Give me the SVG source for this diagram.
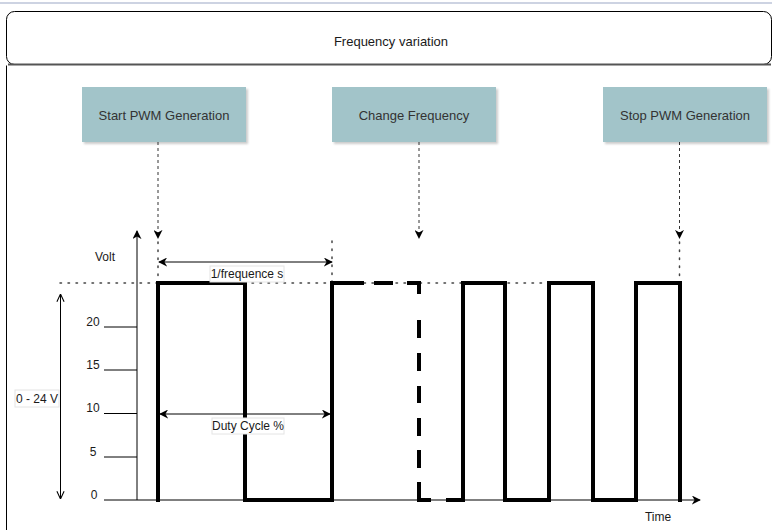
<svg xmlns="http://www.w3.org/2000/svg" width="772" height="530" viewBox="0 0 772 530">
<style>
text{font-family:"Liberation Sans",Arial,sans-serif;font-size:12px;fill:#1a1a1a}
.node rect.box{fill:#a2c4c9;stroke:none}
.node text{text-anchor:middle;dominant-baseline:central;fill:#333;font-size:13px}
.dash{stroke:#333;stroke-width:1;stroke-dasharray:3 3;fill:none}
.dot{stroke:#444;stroke-width:1.5;stroke-dasharray:1.5 6.5;stroke-linecap:round;fill:none}
.thin{stroke:#000;stroke-width:1;fill:none}
.wave{stroke:#000;stroke-width:4;fill:none;stroke-linejoin:miter;stroke-linecap:square}
.lbl{text-anchor:middle;dominant-baseline:central}
.lblbg{fill:#fff;stroke:#e4e4e4;stroke-width:1}
</style>
<defs>
<marker id="blk" viewBox="0 0 10 10" refX="9" refY="5" markerWidth="9" markerHeight="9" markerUnits="userSpaceOnUse" orient="auto-start-reverse">
<path d="M0,0 L10,5 L0,10 L3,5 Z" fill="#000"/>
</marker>
<marker id="open" viewBox="0 0 10 10" refX="9.5" refY="5" markerWidth="9" markerHeight="9" markerUnits="userSpaceOnUse" orient="auto-start-reverse">
<path d="M1,1 L9.5,5 L1,9" fill="none" stroke="#000" stroke-width="1.2"/>
</marker>
<filter id="sh" x="-10%" y="-10%" width="130%" height="140%">
<feDropShadow dx="2" dy="2" stdDeviation="1.2" flood-color="#000" flood-opacity="0.2"/>
</filter>
</defs>
<rect x="0" y="2" width="772" height="2" fill="#cdd3e2"/>
<g id="frame">
<rect x="6.5" y="11.5" width="765" height="53" rx="8" fill="#fff" stroke="#000"/>
<line x1="8" y1="64.5" x2="771" y2="64.5" stroke="#555" stroke-width="2"/>
<path d="M6.5,530 V65.5" class="thin"/>
<text x="391" y="41" class="lbl" style="font-size:13px">Frequency variation</text>
</g>
<g id="start-pwm" class="node">
<rect class="box" x="82" y="87" width="164" height="55" filter="url(#sh)"/>
<text x="164" y="115">Start PWM Generation</text>
</g>
<g id="change-frequency" class="node">
<rect class="box" x="332" y="87" width="164" height="55" filter="url(#sh)"/>
<text x="414" y="115">Change Frequency</text>
</g>
<g id="stop-pwm" class="node">
<rect class="box" x="603" y="87" width="164" height="55" filter="url(#sh)"/>
<text x="685" y="115">Stop PWM Generation</text>
</g>
<g id="connectors">
<line x1="158" y1="142" x2="158" y2="238" class="dash" marker-end="url(#blk)"/>
<line x1="419" y1="142" x2="419" y2="238" class="dash" marker-end="url(#blk)"/>
<line x1="679.5" y1="142" x2="679.5" y2="238" class="dash" marker-end="url(#blk)"/>
</g>
<g id="guides">
<line x1="60" y1="283" x2="550" y2="283" class="dot"/>
<line x1="158" y1="242" x2="158" y2="283" class="dot"/>
<line x1="332" y1="241" x2="332" y2="283" class="dot"/>
<line x1="679.5" y1="242" x2="679.5" y2="283" class="dot"/>
</g>
<g id="axes">
<line x1="137" y1="500" x2="137" y2="231" class="thin" marker-end="url(#blk)"/>
<line x1="104" y1="500" x2="700" y2="500" class="thin" marker-end="url(#blk)"/>
<line x1="104" y1="327" x2="137" y2="327" class="thin"/>
<line x1="104" y1="370" x2="137" y2="370" class="thin"/>
<line x1="104" y1="413.5" x2="137" y2="413.5" class="thin"/>
<line x1="104" y1="457" x2="137" y2="457" class="thin"/>
<text x="93" y="322" class="lbl">20</text>
<text x="93" y="365" class="lbl">15</text>
<text x="93" y="408" class="lbl">10</text>
<text x="93" y="452" class="lbl">5</text>
<text x="94" y="495" class="lbl">0</text>
<text x="105" y="257" class="lbl">Volt</text>
<text x="658" y="517" class="lbl">Time</text>
<line x1="60.5" y1="294" x2="60.5" y2="499" class="thin" marker-start="url(#open)" marker-end="url(#open)"/>
<rect x="15" y="390" width="44" height="17" class="lblbg"/>
<text x="37" y="398.5" class="lbl">0 - 24 V</text>
</g>
<g id="waveform">
<path d="M158,500 V283 H245 V500 H332 V283 H362" class="wave"/>
<path d="M376,283 H391" class="wave"/>
<path d="M409,283 H419 V292" class="wave"/>
<path d="M419,322 V336 M419,355 V369 M419,388 V401 M419,420 V434 M419,452 V466" class="wave"/>
<path d="M419,484 V500 H429" class="wave"/>
<path d="M448,500 H463 V283 H505 V500 H549 V283 H593 V500 H636 V283 H680 V500" class="wave"/>
</g>
<g id="dimensions">
<line x1="159" y1="262" x2="332" y2="262" class="thin" marker-start="url(#blk)" marker-end="url(#blk)"/>
<rect x="210" y="266" width="74" height="16" class="lblbg"/>
<text x="247" y="274" class="lbl">1/frequence s</text>
<line x1="160" y1="414" x2="330" y2="414" class="thin" marker-start="url(#blk)" marker-end="url(#blk)"/>
<rect x="212" y="418" width="72" height="16" class="lblbg"/>
<text x="248" y="426" class="lbl">Duty Cycle %</text>
</g>
</svg>
